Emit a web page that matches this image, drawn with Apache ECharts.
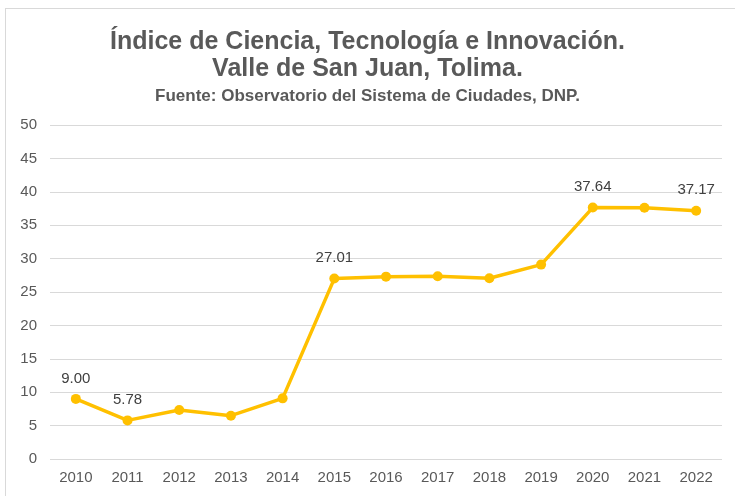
<!DOCTYPE html>
<html>
<head>
<meta charset="utf-8">
<script src="https://cdn.jsdelivr.net/npm/echarts@6/dist/echarts.min.js"></script>
<style>
  html, body { margin: 0; padding: 0; background: #fff; }
  #frame { position: absolute; left: 5px; top: 8px; width: 740px; height: 500px; border: 1px solid #d9d9d9; box-sizing: border-box; }
  #chart { position: absolute; left: 0; top: 0; width: 735px; height: 496px; }
</style>
</head>
<body>
<div id="frame"></div>
<div id="chart"></div>
<script>
// datos
const years = ['2010', '2011', '2012', '2013', '2014', '2015', '2016', '2017', '2018', '2019', '2020', '2021', '2022'];
const values = [9.00, 5.78, 7.33, 6.48, 9.08, 27.01, 27.3, 27.35, 27.05, 29.1, 37.64, 37.6, 37.17];
const labeledYears = ['2010', '2011', '2015', '2020', '2022'];

const textColor = '#595959';
const lineColor = '#FFC000';

const chart = echarts.init(document.getElementById('chart'));

chart.setOption({
    backgroundColor: 'transparent',
    animation: false,
    title: [
        {
            text: 'Índice de Ciencia, Tecnología e Innovación.\nValle de San Juan, Tolima.',
            left: 'center',
            top: 24,
            textStyle: {
                fontFamily: 'Liberation Sans',
                fontSize: 25,
                fontWeight: 'bold',
                color: textColor,
                lineHeight: 27
            }
        },
        {
            text: 'Fuente: Observatorio del Sistema de Ciudades, DNP.',
            left: 'center',
            top: 83,
            textStyle: {
                fontFamily: 'Liberation Sans',
                fontSize: 17,
                fontWeight: 'bold',
                color: textColor
            }
        }
    ],
    grid: {
        left: 50,
        right: 13,
        top: 125,
        bottom: 37,
        containLabel: false
    },
    xAxis: {
        type: 'category',
        data: years,
        boundaryGap: true,
        axisLine: { show: false },
        axisTick: { show: false },
        axisLabel: {
            color: textColor,
            fontFamily: 'Liberation Sans',
            fontSize: 15,
            margin: 11
        }
    },
    yAxis: {
        type: 'value',
        min: 0,
        max: 50,
        interval: 5,
        axisLine: { show: false },
        axisTick: { show: false },
        splitLine: { lineStyle: { color: '#d9d9d9', width: 1 } },
        axisLabel: {
            color: textColor,
            fontFamily: 'Liberation Sans',
            fontSize: 15,
            margin: 13
        }
    },
    series: [{
        type: 'line',
        data: values.map((v, i) => ({
            value: v,
            label: { show: labeledYears.includes(years[i]) }
        })),
        symbol: 'circle',
        symbolSize: 10,
        lineStyle: { color: lineColor, width: 3.5 },
        itemStyle: { color: lineColor },
        label: {
            position: 'top',
            distance: 8,
            formatter: p => p.value.toFixed(2),
            color: '#404040',
            fontFamily: 'Liberation Sans',
            fontSize: 15
        }
    }]
});
</script>
</body>
</html>
